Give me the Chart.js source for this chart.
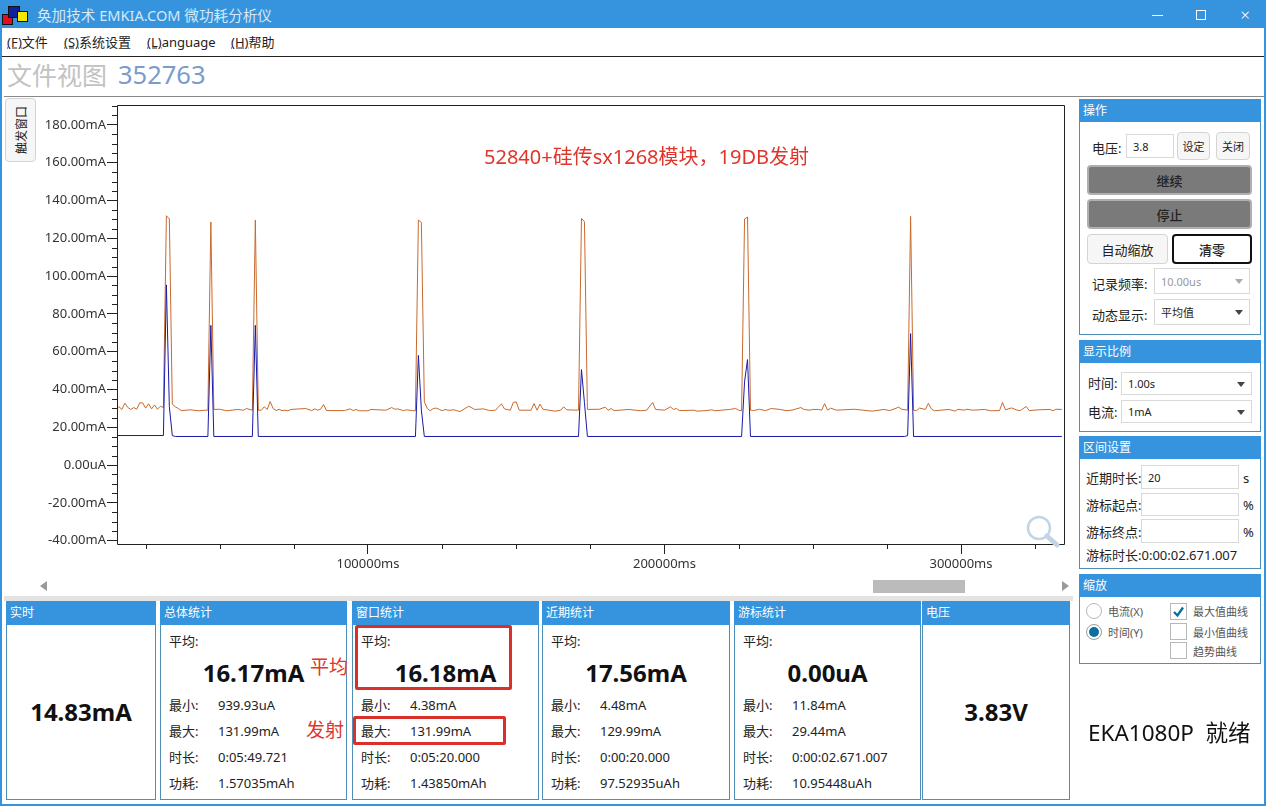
<!DOCTYPE html>
<html>
<head>
<meta charset="utf-8">
<title>EMKIA</title>
<script src="https://cdn.jsdelivr.net/npm/chart.js@4"></script>
<style>
html,body{margin:0;padding:0;background:#fff;overflow:hidden;}
body{width:1266px;height:806px;position:relative;font-family:"Noto Sans","Noto Sans CJK SC",sans-serif;font-size:13px;color:#222;}
.box{position:absolute;box-sizing:border-box;}
.t{position:absolute;white-space:nowrap;transform:translateY(-50%);line-height:1;}
.c{transform:translate(-50%,-50%);}
.panel{position:absolute;box-sizing:border-box;border:1px solid #4f8fb5;background:#fff;}
.head{position:absolute;left:-1px;right:-1px;top:-1px;background:#3594dd;color:#fff;font-size:12px;padding-left:4px;box-sizing:border-box;}
.btn{position:absolute;box-sizing:border-box;background:#f6f6f6;border:1px solid #d4d4d4;border-radius:4px;text-align:center;font-size:12px;display:flex;align-items:center;justify-content:center;}
.dark{background:#7a7a7a;border:2px solid #b0b0b0;color:#222;font-weight:500;font-size:13px;}
.input{position:absolute;box-sizing:border-box;background:#fff;border:1px solid #d9d9d9;font-size:11px;padding-left:6px;display:flex;align-items:center;}
.arrow{position:absolute;right:6px;top:50%;margin-top:-2px;width:0;height:0;border-left:4px solid transparent;border-right:4px solid transparent;border-top:5px solid #444;}
.chk{position:absolute;box-sizing:border-box;width:17px;height:17px;border:1px solid #b8b8b8;background:#fff;}
.radio{position:absolute;box-sizing:border-box;width:16px;height:16px;border:1px solid #b8b8b8;border-radius:50%;background:#fff;}
.red{color:#e0352b;}
.redbox{position:absolute;box-sizing:border-box;border:3px solid #d9302a;border-radius:2px;}
#wrap{position:absolute;left:40px;top:100px;width:1030px;height:480px;}
</style>
</head>
<body>

<!-- title bar -->
<div class="box" style="left:0;top:0;width:1266px;height:28px;background:#3594dd;"></div>
<div class="box" style="left:0;top:28px;width:2px;height:778px;background:#3594dd;"></div>
<div class="box" style="left:1264px;top:28px;width:2px;height:778px;background:#3594dd;"></div>
<div class="box" style="left:0;top:804px;width:1266px;height:2px;background:#3594dd;"></div>
<div class="box" style="left:2px;top:14px;width:11px;height:11px;background:#e01020;border:1px solid #111;"></div>
<div class="box" style="left:8px;top:6px;width:12px;height:12px;background:#10209a;border:1px solid #111;"></div>
<div class="box" style="left:17px;top:11px;width:11px;height:11px;background:#f5e800;border:1px solid #111;"></div>
<div class="t" style="left:37px;top:15px;color:#d6e8f6;font-size:14.6px;">奂加技术 EMKIA.COM 微功耗分析仪</div>
<div class="box" style="left:1152px;top:15px;width:11px;height:1px;background:#fff;"></div>
<div class="box" style="left:1196px;top:10px;width:10px;height:10px;border:1px solid #fff;"></div>
<div class="t c" style="left:1245px;top:14px;color:#fff;font-size:17px;font-weight:300;">×</div>

<!-- menu -->
<div class="t" style="left:7px;top:42px;"><u>(F)</u>文件</div>
<div class="t" style="left:64px;top:42px;"><u>(S)</u>系统设置</div>
<div class="t" style="left:147px;top:42px;"><u>(L)</u>anguage</div>
<div class="t" style="left:231px;top:42px;"><u>(H)</u>帮助</div>
<div class="box" style="left:2px;top:56px;width:1262px;height:1px;background:#222;"></div>

<div class="t" style="left:7px;top:75px;font-size:25px;color:#c2c2c2;">文件视图</div>
<div class="t" style="left:118px;top:75px;font-size:25.5px;color:#7a9ccb;">352763</div>
<div class="box" style="left:4px;top:96px;width:1260px;height:1px;background:#888;"></div>

<!-- chart -->
<div id="wrap"><canvas id="chart"></canvas></div>

<div class="btn" style="left:5px;top:98px;width:31px;height:64px;"><span style="display:inline-block;transform:rotate(-90deg);white-space:nowrap;font-size:12px;">触发窗口</span></div>
<div class="t red" style="left:484px;top:157px;font-size:20px;">52840+硅传sx1268模块，19DB发射</div>

<svg class="box" style="left:1025px;top:514px;" width="36" height="34" viewBox="0 0 36 34">
  <circle cx="14" cy="14" r="11" fill="none" stroke="#c3d5e4" stroke-width="2.5"/>
  <line x1="22" y1="22" x2="32" y2="31" stroke="#c3d5e4" stroke-width="5" stroke-linecap="round"/>
</svg>

<!-- scrollbar -->
<div class="box" style="left:40px;top:581px;width:0;height:0;border-top:5px solid transparent;border-bottom:5px solid transparent;border-right:7px solid #999;"></div>
<div class="box" style="left:1062px;top:581px;width:0;height:0;border-top:5px solid transparent;border-bottom:5px solid transparent;border-left:7px solid #999;"></div>
<div class="box" style="left:873px;top:580px;width:92px;height:13px;background:#bbb;"></div>
<div class="box" style="left:4px;top:596px;width:1069px;height:5px;background:#e3e3e3;"></div>

<!-- bottom stat panels are built below -->
<div id="stats"></div>
<div class="t red" style="left:310px;top:667px;font-size:19px;">平均</div>
<div class="t red" style="left:306px;top:730px;font-size:19px;">发射</div>
<div class="redbox" style="left:355px;top:625px;width:157px;height:65px;"></div>
<div class="redbox" style="left:353px;top:716px;width:153px;height:29px;"></div>

<!-- 操作 -->
<div class="panel" style="left:1079px;top:99px;width:182px;height:236px;"><div class="head" style="height:23px;line-height:23px;">操作</div></div>
<div class="t" style="left:1092px;top:148px;">电压:</div>
<div class="input" style="left:1126px;top:134px;width:48px;height:24px;">3.8</div>
<div class="btn" style="left:1177px;top:132px;width:33px;height:28px;font-size:11px;">设定</div>
<div class="btn" style="left:1216px;top:132px;width:34px;height:28px;font-size:11px;">关闭</div>
<div class="btn dark" style="left:1087px;top:165px;width:165px;height:30px;">继续</div>
<div class="btn dark" style="left:1087px;top:199px;width:165px;height:30px;">停止</div>
<div class="btn" style="left:1087px;top:234px;width:81px;height:30px;font-size:13px;">自动缩放</div>
<div class="btn" style="left:1172px;top:234px;width:80px;height:30px;font-size:13px;border:2px solid #111;background:#fff;font-weight:500;">清零</div>
<div class="t" style="left:1092px;top:284px;">记录频率:</div>
<div class="input" style="left:1154px;top:268px;width:96px;height:26px;color:#999;">10.00us<span class="arrow" style="border-top-color:#aaa;"></span></div>
<div class="t" style="left:1092px;top:315px;">动态显示:</div>
<div class="input" style="left:1154px;top:299px;width:96px;height:26px;">平均值<span class="arrow"></span></div>

<!-- 显示比例 -->
<div class="panel" style="left:1079px;top:340px;width:182px;height:92px;"><div class="head" style="height:23px;line-height:23px;">显示比例</div></div>
<div class="t" style="left:1088px;top:383px;">时间:</div>
<div class="input" style="left:1121px;top:372px;width:131px;height:23px;">1.00s<span class="arrow"></span></div>
<div class="t" style="left:1088px;top:412px;">电流:</div>
<div class="input" style="left:1121px;top:400px;width:131px;height:23px;">1mA<span class="arrow"></span></div>

<!-- 区间设置 -->
<div class="panel" style="left:1079px;top:436px;width:182px;height:133px;"><div class="head" style="height:23px;line-height:23px;">区间设置</div></div>
<div class="t" style="left:1086px;top:478px;">近期时长:</div>
<div class="input" style="left:1141px;top:465px;width:98px;height:24px;">20</div>
<div class="t" style="left:1243px;top:478px;">s</div>
<div class="t" style="left:1086px;top:505px;">游标起点:</div>
<div class="input" style="left:1141px;top:493px;width:98px;height:23px;"></div>
<div class="t" style="left:1243px;top:505px;">%</div>
<div class="t" style="left:1086px;top:532px;">游标终点:</div>
<div class="input" style="left:1141px;top:519px;width:98px;height:24px;"></div>
<div class="t" style="left:1243px;top:532px;">%</div>
<div class="t" style="left:1086px;top:555px;">游标时长:0:00:02.671.007</div>

<!-- 缩放 -->
<div class="panel" style="left:1079px;top:574px;width:182px;height:90px;"><div class="head" style="height:23px;line-height:23px;">缩放</div></div>
<div class="radio" style="left:1086px;top:603px;"></div>
<div class="t" style="left:1108px;top:611px;font-size:11px;color:#555;">电流(X)</div>
<div class="radio" style="left:1086px;top:624px;border-color:#999;"><div class="box" style="left:2px;top:2px;width:10px;height:10px;border-radius:50%;background:#0d6f9e;"></div></div>
<div class="t" style="left:1108px;top:632px;font-size:11px;color:#555;">时间(Y)</div>
<div class="chk" style="left:1170px;top:603px;">
  <svg width="15" height="15" viewBox="0 0 15 15" style="display:block;"><path d="M3 8 L6.5 11.5 L12 3.5" fill="none" stroke="#0d6f9e" stroke-width="2.4"/></svg>
</div>
<div class="t" style="left:1193px;top:611px;font-size:11px;color:#555;">最大值曲线</div>
<div class="chk" style="left:1170px;top:623px;"></div>
<div class="t" style="left:1193px;top:632px;font-size:11px;color:#555;">最小值曲线</div>
<div class="chk" style="left:1170px;top:642px;"></div>
<div class="t" style="left:1193px;top:651px;font-size:11px;color:#555;">趋势曲线</div>

<div class="t" style="left:1088px;top:733px;font-size:22.5px;color:#111;">EKA1080P&nbsp; 就绪</div>

<script>
/* =========================
   DATA
========================= */

const orangeTimes = [
    15000,16000,17000,18000,19000,20000,21000,22000,23000,24000,25000,26000,27000,28000,29000,30000,31000,
    32000,33000,34000,35000,36000,37000,40000,43000,45000,46000,47000,48000,50000,52000,53000,56000,58000,59000,61000,
    62000,63000,64000,65000,66000,67000,68000,69000,70000,71000,72000,73000,74000,79000,81000,82000,83000,84000,85000,86000,
    92000,94000,95000,96000,97000,100000,101000,106000,108000,109000,110000,112000,113000,115000,116000,
    117000,118000,119000,120000,121000,122000,123000,124000,125000,126000,127000,128000,129000,130000,131000,132000,134000,136000,139000,
    141000,143000,145000,146000,148000,149000,150000,151000,155000,156000,157000,158000,159000,161000,163000,165000,166000,167000,171000,
    172000,173000,174000,178000,180000,181000,182000,183000,188000,192000,194000,196000,197000,200000,202000,203000,204000,205000,
    210000,211000,214000,216000,217000,222000,224000,225000,226000,
    227000,228000,229000,230000,232000,234000,236000,239000,241000,243000,246000,247000,249000,250000,252000,253000,254000,255000,256000,258000,
    264000,267000,270000,274000,276000,279000,280000,282000,
    283000,284000,285000,286000,288000,289000,290000,291000,296000,298000,299000,301000,302000,304000,308000,310000,313000,314000,315000,
    317000,319000,320000,322000,323000,326000,330000,331000,332000,334000
];
const orangeValues = [
    30.4,30.8,29.4,32.7,30.4,29.4,30.4,29.5,32.9,32.9,30.1,32.4,29.7,31.8,29.5,31.1,30.4,
    131.9,130.2,32.2,30.8,29.9,28.8,29.2,28.7,29.0,29.0,128.6,29.4,29.5,28.8,28.8,29.4,29.0,29.9,29.0,
    129.6,29.0,29.0,30.8,29.4,33.6,29.9,28.8,29.5,28.8,29.0,28.7,29.4,29.9,28.8,29.7,29.0,29.5,32.0,28.8,
    28.8,29.7,28.8,29.4,28.7,28.7,29.4,29.0,30.4,29.5,29.7,28.8,29.2,28.8,28.7,
    129.6,128.4,33.4,29.9,28.7,29.9,30.1,29.5,28.7,29.4,29.0,29.0,29.2,28.7,28.3,29.2,31.1,29.4,29.7,
    28.8,29.0,32.4,29.7,29.0,33.1,33.4,29.0,29.0,32.5,29.0,32.2,29.5,29.0,28.5,29.0,30.8,29.2,29.0,
    130.5,128.8,29.4,29.5,30.6,29.0,29.9,28.8,29.4,28.7,29.0,33.1,29.4,29.0,30.8,29.4,29.9,28.8,
    29.0,28.5,28.8,29.2,28.7,29.4,29.9,29.0,28.7,
    130.2,131.2,29.0,28.8,29.5,28.8,29.9,29.4,28.8,29.0,30.4,29.4,29.0,29.4,29.4,29.0,32.5,29.0,30.1,29.0,
    29.5,29.0,28.5,29.4,28.8,30.6,29.5,29.0,
    131.6,29.0,28.8,30.1,29.4,32.7,29.7,28.7,29.4,28.5,29.5,29.0,29.5,29.0,29.4,28.7,28.8,33.1,29.2,
    30.2,29.0,28.8,31.0,28.8,29.2,29.4,28.7,29.5,29.4
];

const blueTimes = [
    15000,31000,32000,33000,34000,35000,46000,47000,48000,61000,62000,63000,
    116000,117000,118000,119000,171000,172000,173000,174000,
    226000,227000,228000,229000,281000,282000,283000,284000,334000
];
const blueValues = [
    15.6,15.6,95.3,30.8,15.6,15.1,15.1,73.9,15.1,15.1,73.9,15.1,
    15.1,58.0,29.0,15.1,15.1,50.5,33.0,15.1,
    15.1,44.0,55.8,15.1,15.1,15.6,69.5,15.1,15.1
];

const xMajorTicks = [100000, 200000, 300000];
const xMinorTicks = [25000, 50000, 75000, 125000, 150000, 175000, 225000, 250000, 275000, 325000];
const yMajorTicks = [180, 160, 140, 120, 100, 80, 60, 40, 20, 0, -20, -40];
const yMinorTicks = [190, 185, 175, 170, 165, 155, 150, 145, 135, 130, 125, 115, 110, 105, 95, 90, 85, 75, 70, 65, 55, 50, 45, 35, 30, 25, 15, 10, 5, -5, -10, -15, -25, -30, -35];

const statTitles = ["实时", "总体统计", "窗口统计", "近期统计", "游标统计", "电压"];
const statAverages = ["14.83mA", "16.17mA", "16.18mA", "17.56mA", "0.00uA", "3.83V"];
const statMins = [null, "939.93uA", "4.38mA", "4.48mA", "11.84mA", null];
const statMaxs = [null, "131.99mA", "131.99mA", "129.99mA", "29.44mA", null];
const statDurations = [null, "0:05:49.721", "0:05:20.000", "0:00:20.000", "0:00:02.671.007", null];
const statEnergies = [null, "1.57035mAh", "1.43850mAh", "97.52935uAh", "10.95448uAh", null];


/* =========================
   STAT PANELS
========================= */

const panelLeft = [6, 160, 352, 542, 734, 922];
const panelRight = [156, 347, 539, 730, 921, 1070];

let html = "";
for(let i = 0; i < statTitles.length; i++){
    let l = panelLeft[i], w = panelRight[i] - l;
    html += '<div class="panel" style="left:' + l + 'px;top:601px;width:' + w + 'px;height:199px;">' +
            '<div class="head" style="height:24px;line-height:24px;">' + statTitles[i] + '</div></div>';
    if(statMins[i] === null){
        html += '<div class="t c" style="left:' + (l + w / 2) + 'px;top:712px;font-size:24px;font-weight:700;color:#111;">' + statAverages[i] + '</div>';
        continue;
    }
    html += '<div class="t" style="left:' + (l + 9) + 'px;top:641px;">平均:</div>';
    html += '<div class="t c" style="left:' + (l + w / 2) + 'px;top:673px;font-size:24px;font-weight:700;color:#111;">' + statAverages[i] + '</div>';
    let rows = [["最小:", statMins[i], 705], ["最大:", statMaxs[i], 731], ["时长:", statDurations[i], 757], ["功耗:", statEnergies[i], 783]];
    rows.forEach(function(r){
        html += '<div class="t" style="left:' + (l + 9) + 'px;top:' + r[2] + 'px;">' + r[0] + '</div>';
        html += '<div class="t" style="left:' + (l + 58) + 'px;top:' + r[2] + 'px;">' + r[1] + '</div>';
    });
}
document.getElementById("stats").innerHTML = html;


/* =========================
   CHART
========================= */

const frameAndMinorTicks = {
    id: 'frameAndMinorTicks',
    afterDraw(chart) {
        const { ctx, chartArea: { top, bottom, left, right }, scales: { x, y } } = chart;
        ctx.save();
        ctx.strokeStyle = '#222';
        ctx.lineWidth = 1;
        ctx.beginPath();
        ctx.rect(Math.round(left) + 0.5, Math.round(top) + 0.5, Math.round(right - left), Math.round(bottom - top));
        yMinorTicks.forEach(function(v){
            const p = Math.round(y.getPixelForValue(v)) + 0.5;
            ctx.moveTo(left - 5, p);
            ctx.lineTo(left, p);
        });
        xMinorTicks.forEach(function(v){
            const p = Math.round(x.getPixelForValue(v)) + 0.5;
            ctx.moveTo(p, bottom);
            ctx.lineTo(p, bottom + 5);
        });
        ctx.stroke();
        ctx.restore();
    }
};

const toPoints = (xs, ys) => xs.map((v, i) => ({ x: v, y: ys[i] }));

new Chart(document.getElementById('chart'), {
    type: 'line',
    data: {
        datasets: [
            {
                data: toPoints(blueTimes, blueValues),
                borderColor: '#1a1aa8',
                borderWidth: 1,
                pointRadius: 0,
                tension: 0
            },
            {
                data: toPoints(orangeTimes, orangeValues),
                borderColor: '#c9692c',
                borderWidth: 1,
                pointRadius: 0,
                tension: 0
            }
        ]
    },
    options: {
        responsive: true,
        maintainAspectRatio: false,
        animation: false,
        layout: { padding: { top: 5, right: 6, bottom: 0, left: 0 } },
        plugins: { legend: { display: false }, tooltip: { enabled: false } },
        scales: {
            x: {
                type: 'linear',
                min: 15346,
                max: 334738,
                grid: { drawOnChartArea: false, tickLength: 10, tickColor: '#222' },
                border: { display: false },
                afterBuildTicks: s => { s.ticks = xMajorTicks.map(v => ({ value: v })); },
                afterFit: s => { s.height = 36; s.paddingTop = 0; s.paddingBottom = 0; s.paddingLeft = 0; s.paddingRight = 0; },
                ticks: {
                    autoSkip: false,
                    maxRotation: 0,
                    padding: 2,
                    color: '#333',
                    font: { family: '"Noto Sans"', size: 13 },
                    callback: v => v + 'ms'
                }
            },
            y: {
                min: -41.8,
                max: 190.5,
                grid: { drawOnChartArea: false, tickLength: 10, tickColor: '#222' },
                border: { display: false },
                afterBuildTicks: s => { s.ticks = yMajorTicks.map(v => ({ value: v })); },
                afterFit: s => { s.width = 77; s.paddingTop = 0; s.paddingBottom = 0; s.paddingLeft = 0; s.paddingRight = 0; },
                ticks: {
                    autoSkip: false,
                    padding: 1,
                    color: '#333',
                    font: { family: '"Noto Sans"', size: 13 },
                    callback: v => v === 0 ? '0.00uA' : v.toFixed(2) + 'mA'
                }
            }
        }
    },
    plugins: [frameAndMinorTicks]
});
</script>
</body>
</html>
